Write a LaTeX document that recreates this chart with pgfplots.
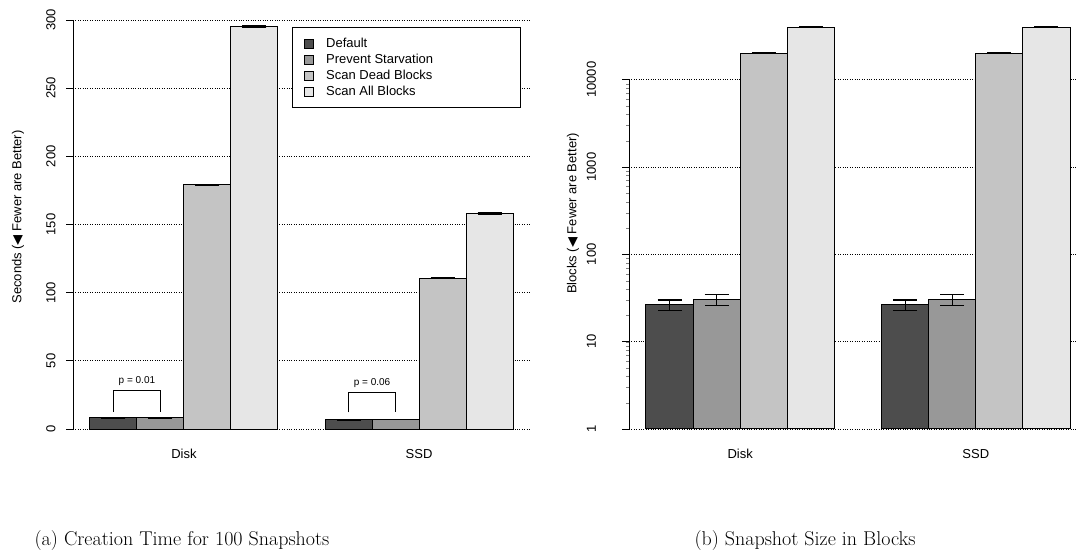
\documentclass[border=0pt]{standalone}
\usepackage{fontspec}
\setsansfont{Liberation Sans}
\newfontfamily\dejavu{DejaVu Sans}
\usepackage{pgfplots}
\usepackage{pgfplotstable}
\pgfplotsset{compat=1.18}
\definecolor{cA}{HTML}{4D4D4D}
\definecolor{cB}{HTML}{989898}
\definecolor{cC}{HTML}{C4C4C4}
\definecolor{cD}{HTML}{E6E6E6}
\newcommand{\fs}[1]{\fontsize{#1pt}{#1pt}\selectfont}

% Creation time (seconds): x = bar centre, y = mean, e = error
\pgfplotstableread{
x y e
1.5 8.3 0.2
6.5 6.9 0.2
}\tA
\pgfplotstableread{
x y e
2.5 8.4 0.2
7.5 7.0 0.2
}\tB
\pgfplotstableread{
x y e
3.5 179.0 0.5
8.5 110.7 0.4
}\tC
\pgfplotstableread{
x y e
4.5 295.0 0.5
9.5 158.2 0.4
}\tD
% Snapshot size (blocks)
\pgfplotstableread{
x y e
1.5 26.4 3.7
6.5 26.4 3.7
}\bA
\pgfplotstableread{
x y e
2.5 30.4 4.5
7.5 30.4 4.5
}\bB
\pgfplotstableread{
x y e
3.5 20100 150
8.5 20100 150
}\bC
\pgfplotstableread{
x y e
4.5 39900 200
9.5 39900 200
}\bD

\pgfplotsset{
  rbar/.style={ybar, bar width=1, bar shift=0, draw=black, line width=1pt, fill=#1, forget plot},
  errs/.style={error bars/.cd, y dir=both, y explicit, error mark=|,
     error mark options={black, line width=1.3pt, mark size=12pt},
     error bar style={black, line width=1.1pt}},
  common/.style={
    scale only axis,
    axis line style={draw=none},
    xmin=0.64,
    xtick={3,8}, xticklabels={Disk,SSD},
    major x tick style={draw=none},
    ytick pos=left, tick align=outside, major tick length=7pt,
    major y tick style={black, line width=0.9pt},
    ymajorgrids, grid style={black, dotted, line width=0.8pt},
    tick label style={font=\sffamily\fs{13}},
    yticklabel style={rotate=90, anchor=center, yshift=15pt},
    xticklabel style={yshift=6.5pt},
    /pgf/number format/assume math mode=true,
    clip=false,
  }
}

\begin{document}
\begin{tikzpicture}
\useasboundingbox (0,0) rectangle (1076pt,553pt);

% ---------------- (a) Creation time ----------------
\begin{axis}[common,
  at={(73pt,107.6pt)}, anchor=south west,
  width=457pt, height=441.8pt,
  xmax=10.36, ymin=-12, ymax=312,
  ytick={0,50,100,150,200,250,300},
  ylabel={Seconds ({\dejavu ◀} Fewer are Better)},
  every axis y label/.style={at={(axis description cs:-0.1204,0.517)}, rotate=90, anchor=center, font=\sffamily\fs{13}},
  legend style={at={(0.4799,0.9463)}, anchor=north west, draw=black, line width=0.9pt, fill=white,
    font=\sffamily\fs{13}, inner xsep=11pt, inner ysep=8pt, row sep=0pt,
    nodes={inner ysep=2pt, text height=9.5pt, text depth=2.5pt}},
  legend cell align=left,
  legend image code/.code={\draw[#1, line width=0.7pt] (0pt,-4.5pt) rectangle (9pt,4.5pt);},
]
\addlegendimage{fill=cA, draw=black}
\addlegendentry{\makebox[192pt][l]{\hspace{10.7pt}Default}}
\addlegendimage{fill=cB, draw=black}
\addlegendentry{\makebox[192pt][l]{\hspace{10.7pt}Prevent Starvation}}
\addlegendimage{fill=cC, draw=black}
\addlegendentry{\makebox[192pt][l]{\hspace{10.7pt}Scan Dead Blocks}}
\addlegendimage{fill=cD, draw=black}
\addlegendentry{\makebox[192pt][l]{\hspace{10.7pt}Scan All Blocks}}

\addplot[rbar=cA, errs] table[x=x, y=y, y error=e] {\tA};
\addplot[rbar=cB, errs] table[x=x, y=y, y error=e] {\tB};
\addplot[rbar=cC, errs] table[x=x, y=y, y error=e] {\tC};
\addplot[rbar=cD, errs] table[x=x, y=y, y error=e] {\tD};

\draw[line width=0.9pt] (axis cs:0.64,0) -- (axis cs:0.64,300);
\draw[line width=0.8pt] (axis cs:1.5,12.7) -- (axis cs:1.5,28.1) -- (axis cs:2.5,28.1) -- (axis cs:2.5,12.7);
\node[font=\sffamily\fs{10}] at (axis cs:2,35.2) {p = 0.01};
\draw[line width=0.8pt] (axis cs:6.5,12.2) -- (axis cs:6.5,27.1) -- (axis cs:7.5,27.1) -- (axis cs:7.5,12.2);
\node[font=\sffamily\fs{10}] at (axis cs:7,33.5) {p = 0.06};
\end{axis}

% ---------------- (b) Snapshot size ----------------
\begin{axis}[common,
  at={(629pt,107.7pt)}, anchor=south west,
  width=447pt, height=434.1pt,
  xmax=10.127, ymode=log, ymin=0.65, ymax=61000,
  ytick={1,10,100,1000,10000}, yticklabels={1,10,100,1000,10000},
  minor ytick={},
  yticklabel style={yshift=15.5pt},
  ylabel={Blocks ({\dejavu ◀} Fewer are Better)},
  every axis y label/.style={at={(axis description cs:-0.1253,0.534)}, rotate=90, anchor=center, font=\sffamily\fs{13}},
]
\addplot[rbar=cA, errs] table[x=x, y=y, y error=e] {\bA};
\addplot[rbar=cB, errs] table[x=x, y=y, y error=e] {\bB};
\addplot[rbar=cC, errs] table[x=x, y=y, y error=e] {\bC};
\addplot[rbar=cD, errs] table[x=x, y=y, y error=e] {\bD};
\draw[line width=0.9pt] (axis cs:0.64,1) -- (axis cs:0.64,10000);
\end{axis}

\node[font=\rmfamily\fs{20}, anchor=base] at (182pt,7pt) {(a) Creation Time for 100 Snapshots};
\node[font=\rmfamily\fs{20}, anchor=base] at (805pt,7pt) {(b) Snapshot Size in Blocks};
\end{tikzpicture}
\end{document}
